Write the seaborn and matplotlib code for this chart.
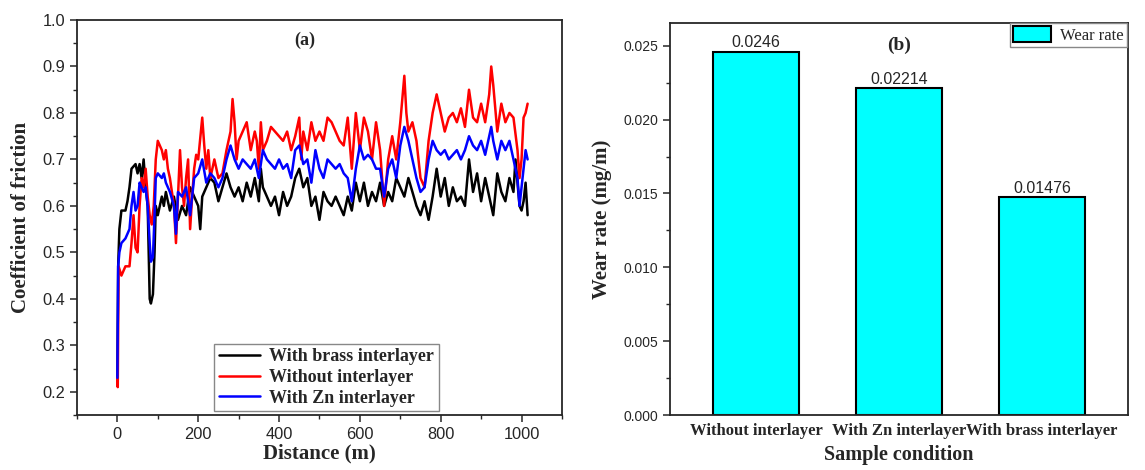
import numpy as np
import pandas as pd
import seaborn as sns
import matplotlib.pyplot as plt
from matplotlib.ticker import MultipleLocator

# ---------------- data ----------------
# (a) coefficient of friction vs distance
brass_dist = [0, 2, 5, 10, 20, 25, 30, 35, 45, 50, 55, 60, 65, 70, 75, 80, 83, 88, 92, 95,
              100, 110, 115, 120, 130, 140, 150, 160, 170, 180, 190, 200, 205, 210, 220, 230,
              240, 250, 260, 270, 280, 290, 300, 310, 320, 330, 340, 350, 355, 360, 370, 380,
              390, 400, 410, 420, 430, 440, 450, 460, 470, 480, 490, 500, 510, 520, 530, 540,
              550, 560, 570, 580, 590, 600, 610, 620, 630, 640, 650, 660, 670, 680, 690, 700,
              710, 720, 730, 740, 750, 760, 770, 780, 790, 800, 810, 820, 830, 840, 850, 860,
              870, 880, 890, 900, 910, 920, 930, 940, 950, 960, 970, 980, 985, 995, 1000, 1005,
              1010, 1015]
brass_cof = [0.23, 0.47, 0.55, 0.59, 0.59, 0.61, 0.64, 0.68, 0.69, 0.67, 0.69, 0.66, 0.70, 0.64,
             0.60, 0.40, 0.39, 0.41, 0.50, 0.60, 0.58, 0.62, 0.60, 0.63, 0.59, 0.62, 0.57, 0.60,
             0.58, 0.64, 0.62, 0.60, 0.55, 0.62, 0.64, 0.66, 0.65, 0.61, 0.64, 0.67, 0.64, 0.62,
             0.64, 0.61, 0.65, 0.62, 0.66, 0.61, 0.68, 0.64, 0.62, 0.60, 0.62, 0.58, 0.63, 0.60,
             0.62, 0.66, 0.68, 0.64, 0.66, 0.60, 0.62, 0.57, 0.63, 0.61, 0.60, 0.62, 0.60, 0.58,
             0.62, 0.59, 0.65, 0.61, 0.65, 0.60, 0.63, 0.61, 0.65, 0.60, 0.63, 0.61, 0.66, 0.64,
             0.62, 0.66, 0.63, 0.60, 0.58, 0.61, 0.57, 0.62, 0.68, 0.62, 0.66, 0.60, 0.64, 0.61,
             0.62, 0.60, 0.70, 0.63, 0.67, 0.61, 0.66, 0.62, 0.58, 0.67, 0.63, 0.61, 0.66, 0.63,
             0.70, 0.60, 0.59, 0.61, 0.65, 0.58]

without_dist = [0, 1, 3, 10, 20, 30, 35, 40, 45, 50, 55, 60, 65, 70, 75, 80, 85, 90, 95, 100,
                105, 110, 115, 120, 125, 130, 140, 145, 150, 155, 160, 165, 170, 175, 180, 185,
                190, 195, 200, 210, 215, 220, 225, 230, 240, 250, 260, 270, 280, 285, 290, 295,
                300, 310, 320, 330, 340, 345, 350, 355, 360, 370, 380, 390, 400, 410, 420, 430,
                440, 450, 455, 460, 470, 480, 490, 500, 510, 520, 530, 540, 550, 560, 570, 580,
                590, 600, 610, 620, 630, 640, 650, 660, 670, 680, 690, 700, 710, 715, 720, 730,
                740, 750, 760, 770, 780, 790, 800, 810, 820, 830, 840, 850, 860, 870, 880, 890,
                900, 910, 920, 925, 930, 940, 950, 960, 970, 980, 990, 995, 1000, 1005, 1010,
                1015]
without_cof = [0.23, 0.21, 0.47, 0.45, 0.47, 0.47, 0.52, 0.58, 0.51, 0.50, 0.60, 0.66, 0.64,
               0.68, 0.62, 0.58, 0.56, 0.60, 0.70, 0.74, 0.73, 0.72, 0.70, 0.72, 0.68, 0.66,
               0.60, 0.52, 0.62, 0.72, 0.64, 0.60, 0.66, 0.70, 0.55, 0.62, 0.68, 0.71, 0.70,
               0.79, 0.73, 0.68, 0.72, 0.66, 0.70, 0.66, 0.67, 0.72, 0.76, 0.83, 0.78, 0.70,
               0.74, 0.76, 0.78, 0.72, 0.76, 0.74, 0.68, 0.78, 0.72, 0.74, 0.77, 0.76, 0.75,
               0.74, 0.76, 0.72, 0.75, 0.79, 0.70, 0.76, 0.72, 0.78, 0.74, 0.76, 0.74, 0.79,
               0.78, 0.76, 0.74, 0.73, 0.79, 0.68, 0.80, 0.72, 0.79, 0.76, 0.70, 0.78, 0.72,
               0.60, 0.70, 0.75, 0.70, 0.78, 0.88, 0.80, 0.76, 0.78, 0.74, 0.66, 0.64, 0.74,
               0.80, 0.84, 0.80, 0.76, 0.79, 0.80, 0.78, 0.81, 0.77, 0.85, 0.79, 0.78, 0.82,
               0.78, 0.84, 0.90, 0.86, 0.76, 0.82, 0.78, 0.80, 0.79, 0.72, 0.66, 0.70, 0.79,
               0.80, 0.82]

zn_dist = [0, 2, 5, 10, 20, 30, 35, 40, 45, 50, 55, 60, 65, 70, 75, 80, 83, 88, 92, 95, 100,
           110, 115, 120, 130, 140, 145, 150, 160, 170, 180, 185, 190, 200, 210, 220, 230, 240,
           250, 260, 270, 280, 290, 300, 310, 320, 330, 340, 350, 360, 370, 380, 390, 400, 410,
           420, 430, 440, 450, 460, 470, 480, 490, 500, 510, 520, 530, 540, 550, 560, 570, 580,
           590, 600, 610, 620, 630, 640, 650, 660, 670, 680, 690, 700, 710, 720, 730, 740, 750,
           760, 770, 780, 790, 800, 810, 820, 830, 840, 850, 860, 870, 880, 890, 900, 910, 920,
           925, 930, 940, 950, 960, 970, 980, 990, 995, 1000, 1005, 1010, 1015]
zn_cof = [0.23, 0.47, 0.50, 0.52, 0.53, 0.55, 0.60, 0.63, 0.59, 0.60, 0.65, 0.64, 0.63, 0.64,
          0.60, 0.52, 0.48, 0.49, 0.58, 0.66, 0.67, 0.66, 0.67, 0.65, 0.63, 0.60, 0.54, 0.63,
          0.62, 0.64, 0.58, 0.62, 0.66, 0.67, 0.70, 0.65, 0.67, 0.66, 0.64, 0.66, 0.70, 0.73,
          0.70, 0.68, 0.70, 0.69, 0.68, 0.70, 0.66, 0.72, 0.70, 0.69, 0.68, 0.70, 0.68, 0.69,
          0.66, 0.72, 0.73, 0.69, 0.70, 0.65, 0.72, 0.68, 0.66, 0.70, 0.69, 0.68, 0.69, 0.67,
          0.66, 0.61, 0.68, 0.73, 0.70, 0.71, 0.70, 0.68, 0.68, 0.62, 0.68, 0.70, 0.66, 0.73,
          0.77, 0.74, 0.70, 0.66, 0.63, 0.64, 0.70, 0.74, 0.72, 0.71, 0.72, 0.70, 0.71, 0.72,
          0.70, 0.72, 0.75, 0.73, 0.72, 0.74, 0.71, 0.75, 0.77, 0.74, 0.70, 0.74, 0.72, 0.74,
          0.70, 0.66, 0.60, 0.64, 0.68, 0.72, 0.70]

series_names = ["With brass interlayer", "Without interlayer", "With Zn interlayer"]
series_colors = ["black", "#ff0000", "#0000ff"]

# (b) wear rate
conditions = ["Without interlayer", "With Zn interlayer", "With brass interlayer"]
wear_rate = [0.0246, 0.02214, 0.01476]
wear_labels = ["0.0246", "0.02214", "0.01476"]

# ---------------- build tables ----------------
cof_df = pd.concat([
    pd.DataFrame({"Distance": brass_dist, "COF": brass_cof, "Sample": series_names[0]}),
    pd.DataFrame({"Distance": without_dist, "COF": without_cof, "Sample": series_names[1]}),
    pd.DataFrame({"Distance": zn_dist, "COF": zn_cof, "Sample": series_names[2]}),
], ignore_index=True)
wear_df = pd.DataFrame({"Condition": conditions, "Wear": wear_rate})

# ---------------- style ----------------
sns.set_style("ticks")
plt.rcParams['font.family'] = ['Liberation Sans', 'DejaVu Sans']
plt.rcParams['xtick.direction'] = 'out'
plt.rcParams['ytick.direction'] = 'out'
serif_bold = dict(family='Liberation Serif', weight='bold')

fig = plt.figure(figsize=(11.45, 4.70), dpi=100)
ax1 = fig.add_axes([0.0672, 0.117, 0.4236, 0.8404])
ax2 = fig.add_axes([0.5852, 0.117, 0.4000, 0.834])

# ---------------- (a) ----------------
sns.lineplot(data=cof_df, x="Distance", y="COF", hue="Sample", hue_order=series_names,
             palette=series_colors, linewidth=1.8, ax=ax1, sort=False)
ax1.set_xlim(-100, 1100)
ax1.set_ylim(0.15, 1.0)
ax1.set_xticks([0, 200, 400, 600, 800, 1000])
ax1.set_yticks(np.arange(0.2, 1.01, 0.1))
ax1.yaxis.set_major_formatter(plt.FormatStrFormatter('%.1f'))
ax1.xaxis.set_minor_locator(MultipleLocator(100))
ax1.yaxis.set_minor_locator(MultipleLocator(0.05))
ax1.set_xlabel("Distance (m)", fontsize=15, labelpad=1, **serif_bold)
ax1.set_ylabel("Coefficient of friction", fontsize=15, labelpad=8, **serif_bold)
ax1.text(0.47, 0.97, "(a)", transform=ax1.transAxes, ha='center', va='top', fontsize=13, **serif_bold)
ax1.legend(loc='lower left', bbox_to_anchor=(0.279, 0.005),
           prop=dict(family='Liberation Serif', weight='bold', size=13),
           fancybox=False, edgecolor='#888888', framealpha=1, handlelength=2.3,
           borderpad=0.25, labelspacing=0.2, handletextpad=0.5, borderaxespad=0.1)

# ---------------- (b) ----------------
sns.barplot(data=wear_df, x="Condition", y="Wear", color="#00ffff", edgecolor="black",
            linewidth=1.5, width=0.6, ax=ax2, label="Wear rate", saturation=1)
ax2.set_xlim(-0.6, 2.6)
ax2.set_ylim(0, 0.02654)
ax2.set_yticks(np.arange(0, 0.0251, 0.005))
ax2.yaxis.set_major_formatter(plt.FormatStrFormatter('%.3f'))
ax2.yaxis.set_minor_locator(MultipleLocator(0.0025))
for lab in ax2.get_xticklabels():
    lab.set_fontproperties(dict(family='Liberation Serif', weight='bold', size=12))
for cont in ax2.containers:
    ax2.bar_label(cont, labels=wear_labels, fontsize=11.5, padding=1)
ax2.set_xlabel("Sample condition", fontsize=14.5, labelpad=4, **serif_bold)
ax2.set_ylabel("Wear rate (mg/m)", fontsize=15, labelpad=8, **serif_bold)
ax2.text(0.5, 0.965, "(b)", transform=ax2.transAxes, ha='center', va='top', fontsize=14, **serif_bold)
ax2.legend(loc='upper right', bbox_to_anchor=(0.997, 1.0), prop=dict(family='Liberation Serif', size=12),
           fancybox=False, edgecolor='#888888', framealpha=1, borderpad=0.2, handlelength=2.3,
           handleheight=1.1, handletextpad=0.5, borderaxespad=0.0)

for ax in (ax1, ax2):
    for sp in ax.spines.values():
        sp.set_visible(True)
        sp.set_linewidth(1.3)
    ax.tick_params(which='major', width=1.1, length=5, top=False, right=False)
    ax.tick_params(which='minor', width=1.0, length=3, top=False, right=False)
ax1.tick_params(which='major', labelsize=11.8)
ax2.tick_params(axis='y', which='major', labelsize=10)
ax2.tick_params(axis='x', which='both', length=0, pad=6)

fig.savefig("out.png", dpi=100)
